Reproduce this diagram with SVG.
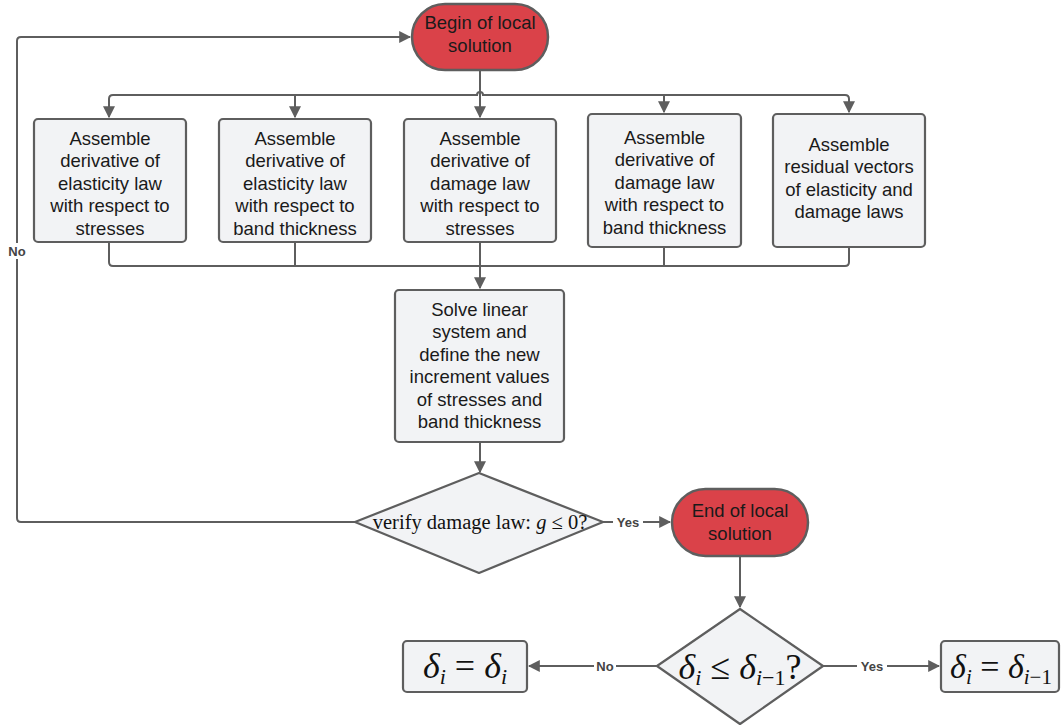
<svg xmlns="http://www.w3.org/2000/svg" width="1061" height="726" viewBox="0 0 1061 726">
<style>
.box{fill:#f2f3f5;stroke:#5e5e5e;stroke-width:2.2}
.term{fill:#da4249;stroke:#5e5e5e;stroke-width:2.5}
.t{font-family:"Liberation Sans",Arial,sans-serif;font-size:18.5px;fill:#1a1a1a;text-anchor:middle}
.c{fill:none;stroke:#5e5e5e;stroke-width:2}
.lbl{font-family:"Liberation Sans",Arial,sans-serif;font-size:13px;font-weight:bold;fill:#444;text-anchor:middle}
.m{font-family:"Liberation Serif","Times New Roman",serif;fill:#111;text-anchor:middle}
.bg{fill:#fff}
</style>
<defs>
<marker id="ah" viewBox="0 0 10 10" refX="9" refY="5" markerWidth="6" markerHeight="6" markerUnits="strokeWidth" orient="auto">
<path d="M0,0 L10,5 L0,10 z" fill="#5e5e5e"/>
</marker>
</defs>
<rect width="1061" height="726" fill="#fff"/>
<g id="connectors">
<path class="c" d="M480,70 V117" marker-end="url(#ah)"/>
<path class="c" d="M109,117 V99 Q109,95 113,95 H477 A3,3 0 0 1 483,95 H845 Q849,95 849,99 V112" marker-end="url(#ah)"/>
<path class="c" d="M109,99 V117" marker-end="url(#ah)"/>
<path class="c" d="M295,95 V117" marker-end="url(#ah)"/>
<path class="c" d="M664,95 V112" marker-end="url(#ah)"/>
<path class="c" d="M109,242 V262 Q109,266 113,266 H845 Q849,266 849,262 V247"/>
<path class="c" d="M295,242 V266"/>
<path class="c" d="M664,247 V266"/>
<path class="c" d="M480,242 V288" marker-end="url(#ah)"/>
<path class="c" d="M480,442 V472" marker-end="url(#ah)"/>
<path class="c" d="M355,522 H21 Q17,522 17,518 V41 Q17,37 21,37 H410" marker-end="url(#ah)"/>
<rect class="bg" x="6" y="243" width="22" height="16"/>
<text class="lbl" x="17" y="256">No</text>
<path class="c" d="M603,522 H670" marker-end="url(#ah)"/>
<rect class="bg" x="613" y="515" width="30" height="15"/>
<text class="lbl" x="628" y="527">Yes</text>
<path class="c" d="M740,556 V607" marker-end="url(#ah)"/>
<path class="c" d="M657,666 H529" marker-end="url(#ah)"/>
<rect class="bg" x="594" y="659" width="22" height="15"/>
<text class="lbl" x="605" y="671">No</text>
<path class="c" d="M823,666 H939" marker-end="url(#ah)"/>
<rect class="bg" x="857" y="659" width="30" height="15"/>
<text class="lbl" x="872" y="671">Yes</text>
</g>
<g id="begin">
<rect class="term" x="412" y="4" width="136" height="66" rx="33"/>
<text class="t" x="480" y="29">Begin of local</text>
<text class="t" x="480" y="51.5">solution</text>
</g>
<g id="box1">
<rect class="box" x="34" y="119" width="152" height="123" rx="4"/>
<text class="t" x="110" y="144.5">Assemble</text>
<text class="t" x="110" y="167">derivative of</text>
<text class="t" x="110" y="189.5">elasticity law</text>
<text class="t" x="110" y="212">with respect to</text>
<text class="t" x="110" y="234.5">stresses</text>
</g>
<g id="box2">
<rect class="box" x="219" y="119" width="152" height="123" rx="4"/>
<text class="t" x="295" y="144.5">Assemble</text>
<text class="t" x="295" y="167">derivative of</text>
<text class="t" x="295" y="189.5">elasticity law</text>
<text class="t" x="295" y="212">with respect to</text>
<text class="t" x="295" y="234.5">band thickness</text>
</g>
<g id="box3">
<rect class="box" x="404" y="119" width="152" height="123" rx="4"/>
<text class="t" x="480" y="144.5">Assemble</text>
<text class="t" x="480" y="167">derivative of</text>
<text class="t" x="480" y="189.5">damage law</text>
<text class="t" x="480" y="212">with respect to</text>
<text class="t" x="480" y="234.5">stresses</text>
</g>
<g id="box4">
<rect class="box" x="588" y="114" width="153" height="133" rx="4"/>
<text class="t" x="664.5" y="143.5">Assemble</text>
<text class="t" x="664.5" y="166">derivative of</text>
<text class="t" x="664.5" y="188.5">damage law</text>
<text class="t" x="664.5" y="211">with respect to</text>
<text class="t" x="664.5" y="233.5">band thickness</text>
</g>
<g id="box5">
<rect class="box" x="773" y="114" width="152" height="133" rx="4"/>
<text class="t" x="849" y="150.5">Assemble</text>
<text class="t" x="849" y="173">residual vectors</text>
<text class="t" x="849" y="195.5">of elasticity and</text>
<text class="t" x="849" y="218">damage laws</text>
</g>
<g id="solve">
<rect class="box" x="395" y="290" width="169" height="152" rx="4"/>
<text class="t" x="479.5" y="315.5">Solve linear</text>
<text class="t" x="479.5" y="338">system and</text>
<text class="t" x="479.5" y="360.5">define the new</text>
<text class="t" x="479.5" y="383">increment values</text>
<text class="t" x="479.5" y="405.5">of stresses and</text>
<text class="t" x="479.5" y="428">band thickness</text>
</g>
<g id="verify">
<path class="box" d="M479,473 L603,522 L479,573 L355,522 Z" stroke-linejoin="round"/>
<text class="m" x="480" y="529" font-size="20.5">verify damage law: <tspan font-style="italic">g</tspan> ≤ 0?</text>
</g>
<g id="end">
<rect class="term" x="672" y="489" width="136" height="67" rx="33.5"/>
<text class="t" x="740" y="517">End of local</text>
<text class="t" x="740" y="539.5">solution</text>
</g>
<g id="check">
<path class="box" d="M740,609 L823,666 L740,724 L657,666 Z" stroke-linejoin="round"/>
<text class="m" x="740" y="679" font-size="36"><tspan font-style="italic">δ</tspan><tspan font-style="italic" font-size="22" dy="6">i</tspan><tspan dy="-6"> ≤ </tspan><tspan font-style="italic">δ</tspan><tspan font-size="22" dy="6"><tspan font-style="italic">i</tspan>−1</tspan><tspan dy="-6">?</tspan></text>
</g>
<g id="keep">
<rect class="box" x="403" y="641" width="124" height="51" rx="4"/>
<text class="m" x="465" y="678" font-size="36"><tspan font-style="italic">δ</tspan><tspan font-style="italic" font-size="22" dy="6">i</tspan><tspan dy="-6"> = </tspan><tspan font-style="italic">δ</tspan><tspan font-style="italic" font-size="22" dy="6">i</tspan></text>
</g>
<g id="prev">
<rect class="box" x="941" y="641" width="118" height="51" rx="4"/>
<text class="m" x="1001" y="678" font-size="34"><tspan font-style="italic">δ</tspan><tspan font-style="italic" font-size="21" dy="6">i</tspan><tspan dy="-6"> = </tspan><tspan font-style="italic">δ</tspan><tspan font-size="21" dy="6"><tspan font-style="italic">i</tspan>−1</tspan></text>
</g>
</svg>
